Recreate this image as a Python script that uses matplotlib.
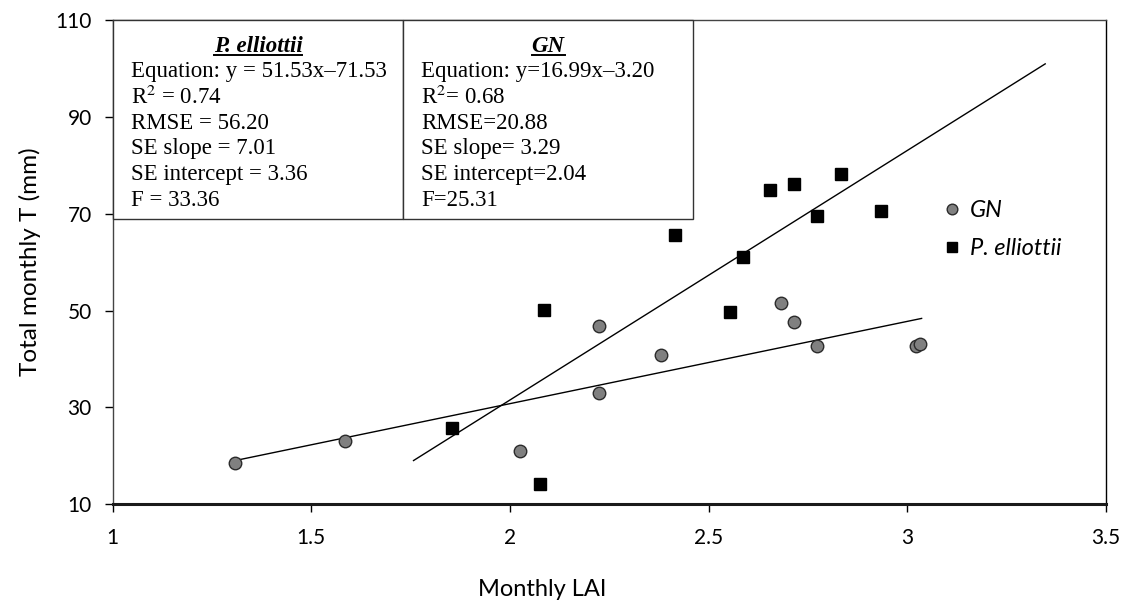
import matplotlib
matplotlib.use("Agg")
import matplotlib.pyplot as plt
from matplotlib.lines import Line2D
from matplotlib.patches import Rectangle

plt.rcParams['mathtext.fontset'] = 'stix'

# ---- data ----
gn_lai = [1.307, 1.586, 2.026, 2.225, 2.225, 2.381, 2.683, 2.714, 2.773, 3.021, 3.033]
gn_t = [18.6, 23.1, 21.0, 33.0, 46.8, 40.8, 51.6, 47.7, 42.7, 42.7, 43.2]

pe_lai = [1.855, 2.076, 2.086, 2.415, 2.554, 2.586, 2.655, 2.714, 2.773, 2.833, 2.934]
pe_t = [25.8, 14.1, 50.1, 65.6, 49.8, 61.1, 75.0, 76.2, 69.6, 78.3, 70.5]

gn_fit = (16.99, -3.20)
gn_fit_range = [1.307, 3.036]
pe_fit = (51.53, -71.53)
pe_fit_range = [1.7575, 3.347]

x_ticks = [1, 1.5, 2, 2.5, 3, 3.5]
x_ticklabels = ['1', '1.5', '2', '2.5', '3', '3.5']
y_ticks = [10, 30, 50, 70, 90, 110]

pe_lines = ["Equation: y = 51.53x\u201371.53", "R$^{2}$ = 0.74", "RMSE = 56.20",
            "SE slope = 7.01", "SE intercept = 3.36", "F = 33.36"]
gn_lines = ["Equation: y=16.99x\u20133.20", "R$^{2}$= 0.68", "RMSE=20.88",
            "SE slope= 3.29", "SE intercept=2.04", "F=25.31"]

W, H = 1122, 602
fig = plt.figure(figsize=(W / 100, H / 100), dpi=100)
L, R, T, B = 112.5, 1106, 20, 504.3
ax = fig.add_axes([L / W, 1 - B / H, (R - L) / W, (B - T) / H])

ax.set_xlim(1, 3.5)
ax.set_ylim(10, 110)

# fit lines
ax.plot(gn_fit_range, [gn_fit[0] * x + gn_fit[1] for x in gn_fit_range], color='black', lw=1.0, zorder=2)
ax.plot(pe_fit_range, [pe_fit[0] * x + pe_fit[1] for x in pe_fit_range], color='black', lw=1.0, zorder=2)

ax.plot(gn_lai, gn_t, 'o', ms=9.0, mfc='#808080', mec='#2b2b2b', mew=1.0, ls='none', zorder=3, label='GN')
ax.plot(pe_lai, pe_t, 's', ms=8.8, mfc='black', mec='black', ls='none', zorder=3, label='P. elliottii')

ax.set_xticks(x_ticks)
ax.set_xticklabels(x_ticklabels, fontsize=15, family='Lato')
ax.set_yticks(y_ticks)
ax.set_yticklabels([str(v) for v in y_ticks], fontsize=15, family='Lato')
ax.tick_params(axis='both', direction='out', length=6, width=1, colors='black')
ax.tick_params(axis='x', pad=11)
ax.tick_params(axis='y', pad=9)

for s in ['top', 'right', 'left']:
    ax.spines[s].set_linewidth(1.0)
    ax.spines[s].set_color('#444444')
ax.spines['right'].set_color('black')
ax.spines['bottom'].set_linewidth(2.2)
ax.spines['bottom'].set_color('#1a1a1a')

fig.text(542 / W, 1 - 590 / H, 'Monthly LAI', ha='center', va='center', fontsize=17, family='Lato')
fig.text(30 / W, 1 - 262 / H, 'Total monthly T (mm)', ha='center', va='center', rotation=90,
         fontsize=17.5, family='Lato')

# legend
leg = ax.legend(loc='upper left', bbox_to_anchor=(943 / W, 1 - 200 / H), bbox_transform=fig.transFigure,
                frameon=False, handletextpad=0.35, labelspacing=0.72, handlelength=0.8, markerscale=0.85,
                prop={'family': 'Lato', 'style': 'italic', 'size': 17}, borderaxespad=0, borderpad=0)

# statistics table
tx0, tx1, tx2 = 113, 403, 693
ty0, ty1 = 20, 219
for a, b in [(tx0, tx1), (tx1, tx2)]:
    fig.patches.append(Rectangle((a / W, 1 - ty1 / H), (b - a) / W, (ty1 - ty0) / H,
                                 transform=fig.transFigure, facecolor='white', edgecolor='#333333',
                                 lw=1.0, zorder=5))

serif = 'Liberation Serif'
fs = 16.5
hdrs = []
for title, cx in [('P. elliottii', (tx0 + tx1) / 2), ('GN', (tx1 + tx2) / 2)]:
    t = fig.text(cx / W, 1 - 46 / H, title, ha='center', va='center', fontsize=fs, family=serif,
                 weight='bold', style='italic', zorder=6)
    hdrs.append(t)
for lines, x0 in [(pe_lines, 131), (gn_lines, 421)]:
    for i, s in enumerate(lines):
        fig.text(x0 / W, 1 - (72 + 25.6 * i) / H, s, ha='left', va='center', fontsize=fs,
                 family=serif, zorder=6)

fig.canvas.draw()
rend = fig.canvas.get_renderer()
for t in hdrs:
    bb = t.get_window_extent(rend)
    yline = bb.y0 + 2
    fig.lines.append(Line2D([bb.x0 / W, bb.x1 / W], [yline / H, yline / H], transform=fig.transFigure,
                            color='black', lw=1.4, zorder=6))

fig.savefig('out.png', dpi=100)
